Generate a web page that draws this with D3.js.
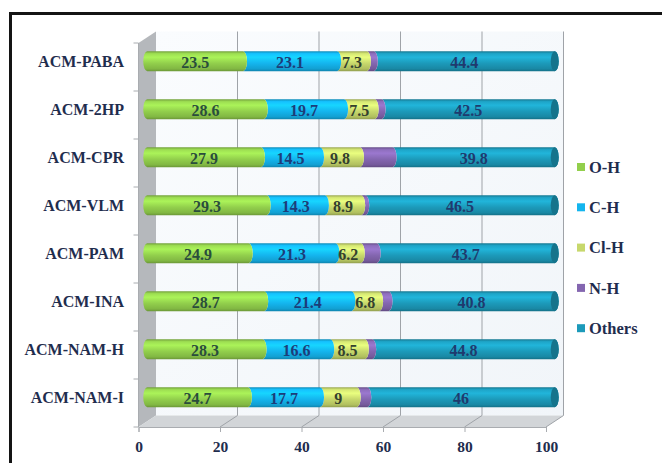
<!DOCTYPE html>
<html>
<head>
<meta charset="utf-8">
<script src="https://cdn.jsdelivr.net/npm/d3@7"></script>
<style>
  html, body { margin: 0; padding: 0; background: #fff; }
  svg { display: block; }
</style>
</head>
<body>
<svg id="chart" width="662" height="463"></svg>
<script>
// Contribution (%) of intermolecular contacts to the Hirshfeld surface
const categories = ["ACM-PABA", "ACM-2HP", "ACM-CPR", "ACM-VLM", "ACM-PAM", "ACM-INA", "ACM-NAM-H", "ACM-NAM-I"];
const seriesNames = ["O-H", "C-H", "Cl-H", "N-H", "Others"];
const ohValues     = [23.5, 28.6, 27.9, 29.3, 24.9, 28.7, 28.3, 24.7];
const chValues     = [23.1, 19.7, 14.5, 14.3, 21.3, 21.4, 16.6, 17.7];
const clhValues    = [7.3, 7.5, 9.8, 8.9, 6.2, 6.8, 8.5, 9];
const nhValues     = [1.7, 1.7, 8.0, 1.0, 3.9, 2.3, 1.8, 2.6];
const otherValues  = [44.4, 42.5, 39.8, 46.5, 43.7, 40.8, 44.8, 46];
const xTicks = [0, 20, 40, 60, 80, 100];

const seriesValues = [ohValues, chValues, clhValues, nhValues, otherValues];
const seriesColors = ["#92cf4c", "#14b5ee", "#c7d86c", "#8466b0", "#1c9aba"];
const labelColors  = ["#2a4d3c", "#1c3d7a", "#33412e", null, "#1f3a6e"];
const showLabel    = [true, true, true, false, true];

const serif = "'Liberation Serif', 'Times New Roman', serif";
const ink = "#1f2d4e";

const svg = d3.select("#chart");
const defs = svg.append("defs");

// frame around the whole figure
svg.append("rect")
  .attr("x", 10.5).attr("y", 13.5)
  .attr("width", 700).attr("height", 500)
  .attr("fill", "none").attr("stroke", "#141414").attr("stroke-width", 3);

// 3D box geometry: front plane plus depth offset
const x = d3.scaleLinear().domain([0, 100]).range([138.5, 546]);
const y = d3.scaleBand().domain(categories).range([43, 427]);
const depthX = 17.5, depthY = -11.5;
const xBack = v => x(v) + depthX;
const xMid = v => x(v) + depthX / 2;
const yTop = y.range()[0], yBot = y.range()[1];

// back wall
const wallGrad = defs.append("linearGradient").attr("id", "wall")
  .attr("x1", 0).attr("y1", 0).attr("x2", 1).attr("y2", 1);
wallGrad.append("stop").attr("offset", 0).attr("stop-color", "#fafcfe");
wallGrad.append("stop").attr("offset", 1).attr("stop-color", "#f1f5f9");
svg.append("rect")
  .attr("x", xBack(0)).attr("y", yTop + depthY)
  .attr("width", xBack(100) - xBack(0)).attr("height", yBot - yTop)
  .attr("fill", "url(#wall)");

// side wall
svg.append("polygon")
  .attr("points", [[x(0), yTop], [xBack(0), yTop + depthY], [xBack(0), yBot + depthY], [x(0), yBot]].join(" "))
  .attr("fill", "#b5b8bc");

// floor
svg.append("polygon")
  .attr("points", [[x(0), yBot], [x(100), yBot], [xBack(100), yBot + depthY], [xBack(0), yBot + depthY]].join(" "))
  .attr("fill", "#d2d5d8");

// gridlines on back wall and floor
const grid = svg.append("g").attr("stroke", "#9fa3a8").attr("stroke-width", 1);
xTicks.filter(t => t > 0).forEach(t => {
  grid.append("line")
    .attr("x1", xBack(t)).attr("x2", xBack(t))
    .attr("y1", yTop + depthY).attr("y2", yBot + depthY);
  grid.append("line")
    .attr("x1", x(t)).attr("x2", xBack(t))
    .attr("y1", yBot).attr("y2", yBot + depthY);
});

// bottom axis
const xAxis = d3.axisBottom(x).tickValues(xTicks).tickSize(5).tickPadding(9);
const gx = svg.append("g").attr("transform", `translate(0,${yBot})`).call(xAxis);
gx.select(".domain").attr("stroke", "#a9acb0");
gx.selectAll(".tick line").attr("stroke", "#a9acb0");
gx.selectAll(".tick text")
  .attr("font-family", serif).attr("font-weight", "bold").attr("font-size", 15.5)
  .attr("fill", ink);

// left axis ticks at band boundaries
const boundaries = categories.map(c => y(c)).concat([yBot]);
svg.append("g").selectAll("line").data(boundaries).join("line")
  .attr("x1", x(0) - 5).attr("x2", x(0))
  .attr("y1", d => d).attr("y2", d => d)
  .attr("stroke", "#a9acb0");
svg.append("line")
  .attr("x1", x(0)).attr("x2", x(0)).attr("y1", yTop).attr("y2", yBot)
  .attr("stroke", "#a9acb0");

// category labels
svg.append("g").selectAll("text").data(categories).join("text")
  .attr("x", 124)
  .attr("y", d => y(d) + y.bandwidth() / 2 + depthY / 2)
  .attr("dy", "0.35em")
  .attr("text-anchor", "end")
  .attr("font-family", serif).attr("font-weight", "bold").attr("font-size", 16)
  .attr("fill", ink)
  .text(d => d);

// cylinder gradients
seriesColors.forEach((c, i) => {
  const base = d3.color(c);
  const g = defs.append("linearGradient").attr("id", "cyl" + i)
    .attr("x1", 0).attr("y1", 0).attr("x2", 0).attr("y2", 1);
  g.append("stop").attr("offset", 0).attr("stop-color", base.darker(0.7));
  g.append("stop").attr("offset", 0.12).attr("stop-color", base.brighter(0.2));
  g.append("stop").attr("offset", 0.3).attr("stop-color", base.brighter(0.45));
  g.append("stop").attr("offset", 0.6).attr("stop-color", base);
  g.append("stop").attr("offset", 0.88).attr("stop-color", base.darker(0.35));
  g.append("stop").attr("offset", 1).attr("stop-color", base.darker(0.9));
});

// stacked data
const stacks = categories.map((cat, ci) => {
  let acc = 0;
  return seriesNames.map((s, si) => {
    const v = seriesValues[si][ci];
    const seg = { cat, si, v, x0: acc, x1: acc + v };
    acc += v;
    return seg;
  });
});

const barH = 20, rx = 4, ry = barH / 2;
const bars = svg.append("g");
stacks.forEach(stack => {
  const cy = y(stack[0].cat) + y.bandwidth() / 2 + depthY / 2;
  const g = bars.append("g");
  // right-most segment first so each segment's rounded end sits over the next
  stack.slice().reverse().forEach(seg => {
    const a = xMid(seg.x0), b = xMid(seg.x1);
    const first = seg.si === 0;
    const path = `M${a},${cy - ry} L${b},${cy - ry} A${rx},${ry} 0 0 1 ${b},${cy + ry} L${a},${cy + ry} ` +
      `A${rx},${ry} 0 0 ${first ? 1 : 0} ${a},${cy - ry} Z`;
    g.append("path").attr("d", path).attr("fill", `url(#cyl${seg.si})`);
  });
  // end face of the cylinder
  const last = stack[stack.length - 1];
  g.append("ellipse")
    .attr("cx", xMid(last.x1)).attr("cy", cy)
    .attr("rx", rx).attr("ry", ry)
    .attr("fill", d3.color(seriesColors[last.si]).darker(0.8));
  // value labels
  stack.filter(seg => showLabel[seg.si]).forEach(seg => {
    g.append("text")
      .attr("x", (xMid(seg.x0) + xMid(seg.x1)) / 2)
      .attr("y", cy + 1)
      .attr("dy", "0.35em")
      .attr("text-anchor", "middle")
      .attr("font-family", serif).attr("font-weight", "bold").attr("font-size", 16)
      .attr("fill", labelColors[seg.si])
      .text(seg.v);
  });
});

// legend
const legend = svg.append("g").attr("transform", "translate(577,167)");
seriesNames.forEach((name, i) => {
  const row = legend.append("g").attr("transform", `translate(0,${i * 40.3})`);
  row.append("rect").attr("x", 0).attr("y", -4).attr("width", 8).attr("height", 8)
    .attr("fill", seriesColors[i]);
  row.append("text").attr("x", 12).attr("y", 0).attr("dy", "0.35em")
    .attr("font-family", serif).attr("font-weight", "bold").attr("font-size", 16.5)
    .attr("fill", ink)
    .text(name);
});
</script>
</body>
</html>
